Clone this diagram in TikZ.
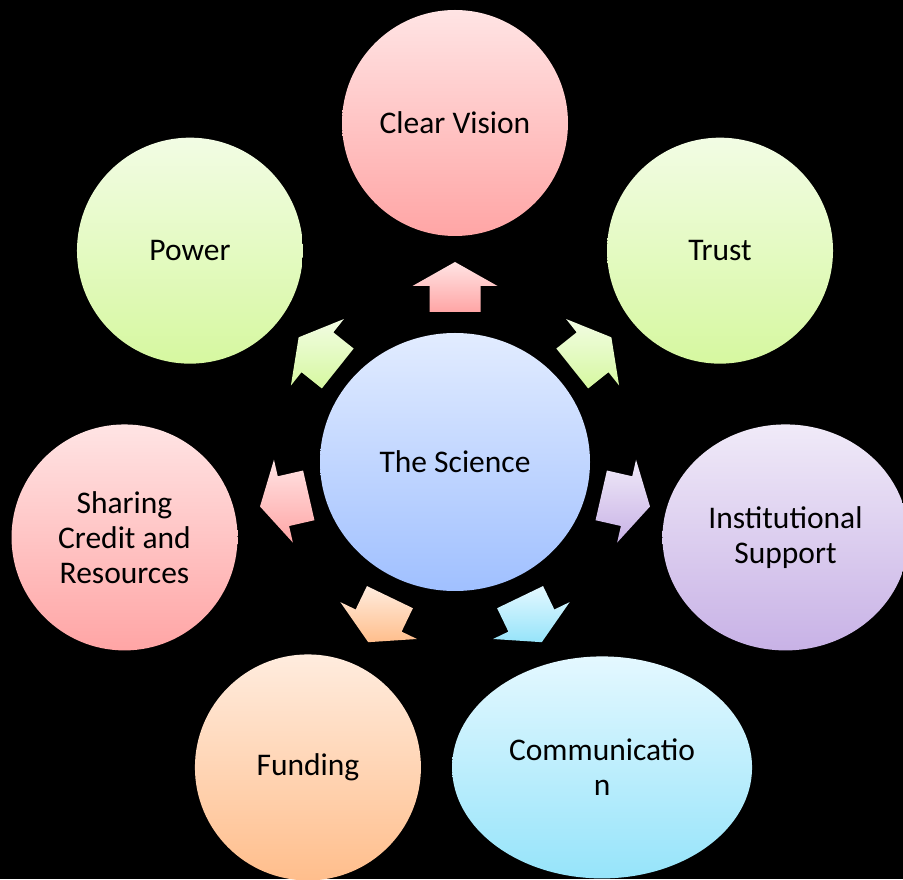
\documentclass[tikz,border=0pt]{standalone}
\usepackage{fontspec}
\setmainfont{Carlito}
\usetikzlibrary{calc,shapes.geometric}
\definecolor{pinkT}{RGB}{255,228,228}
\definecolor{pinkB}{RGB}{255,165,165}
\definecolor{greenT}{RGB}{242,252,228}
\definecolor{greenB}{RGB}{214,248,160}
\definecolor{purpleT}{RGB}{240,234,248}
\definecolor{purpleB}{RGB}{200,178,230}
\definecolor{cyanT}{RGB}{228,248,255}
\definecolor{cyanB}{RGB}{150,228,250}
\definecolor{orangeT}{RGB}{255,236,222}
\definecolor{orangeB}{RGB}{255,190,140}
\definecolor{blueT}{RGB}{226,236,255}
\definecolor{blueB}{RGB}{160,192,255}
\newcommand{\radarrow}[3]{%
  \path[top color=#2, bottom color=#3]
    ($(C)+(#1:150pt)+(#1+90:25.5pt)$) --
    ($(C)+(#1:176pt)+(#1+90:25.5pt)$) --
    ($(C)+(#1:176pt)+(#1+90:42.5pt)$) --
    ($(C)+(#1:200pt)$) --
    ($(C)+(#1:176pt)+(#1-90:42.5pt)$) --
    ($(C)+(#1:176pt)+(#1-90:25.5pt)$) --
    ($(C)+(#1:150pt)+(#1-90:25.5pt)$) -- cycle;}
\begin{document}
\begin{tikzpicture}[x=1pt,y=1pt,
  bub/.style={ellipse, inner sep=0pt, align=center, text=black,
    font=\fontsize{31.5}{35}\selectfont},
  circ/.style={bub, minimum width=226pt, minimum height=226pt}]
\fill[black] (0,0) rectangle (903,879);
\useasboundingbox (0,0) rectangle (903,879);
\coordinate (C) at (455,417);
\node[bub, minimum width=270pt, minimum height=258pt,
  top color=blueT, bottom color=blueB] (sci) at (C) {The Science};
\node[circ, top color=pinkT, bottom color=pinkB] (cv) at ($(C)+(90:339pt)$) {Clear Vision};
\node[circ, top color=greenT, bottom color=greenB] (trust) at ($(C)+(38.571:339pt)$) {Trust};
\node[bub, minimum width=246pt, minimum height=226pt,
  top color=purpleT, bottom color=purpleB] (inst) at ($(C)+(-12.857:339pt)$) {Institutional\\Support};
\node[bub, minimum width=300pt, minimum height=222pt,
  top color=cyanT, bottom color=cyanB] (comm) at ($(C)+(-64.286:339pt)$) {Communicatio\\n};
\node[circ, top color=orangeT, bottom color=orangeB] (fund) at ($(C)+(-115.714:339pt)$) {Funding};
\node[circ, top color=pinkT, bottom color=pinkB] (share) at ($(C)+(-167.143:339pt)$) {Sharing\\Credit and\\Resources};
\node[circ, top color=greenT, bottom color=greenB] (power) at ($(C)+(141.429:339pt)$) {Power};
\radarrow{90}{pinkT}{pinkB}
\radarrow{38.571}{greenT}{greenB}
\radarrow{-12.857}{purpleT}{purpleB}
\radarrow{-64.286}{cyanT}{cyanB}
\radarrow{-115.714}{orangeT}{orangeB}
\radarrow{-167.143}{pinkT}{pinkB}
\radarrow{141.429}{greenT}{greenB}
\end{tikzpicture}
\end{document}
